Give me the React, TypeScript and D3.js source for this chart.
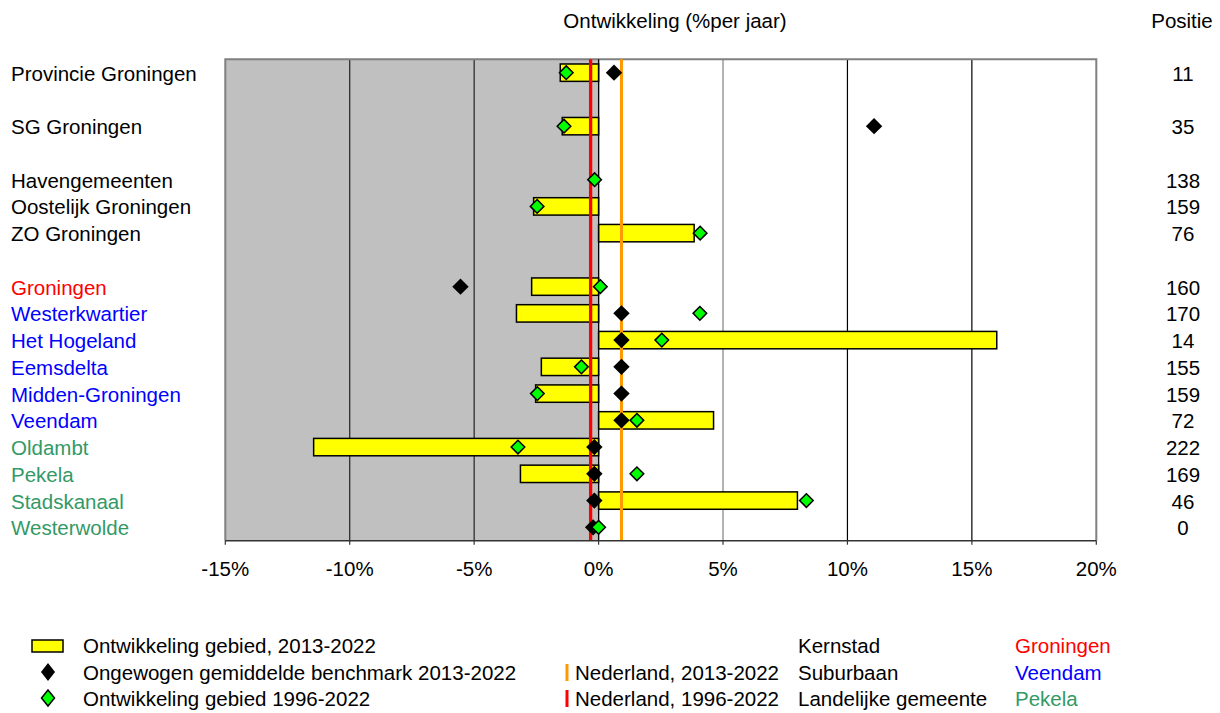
import React from "react";
import * as d3 from "d3";

// ---- data ----
const categories: string[] = [
  "Provincie Groningen", "", "SG Groningen", "", "Havengemeenten", "Oostelijk Groningen", "ZO Groningen", "",
  "Groningen", "Westerkwartier", "Het Hogeland", "Eemsdelta", "Midden-Groningen", "Veendam",
  "Oldambt", "Pekela", "Stadskanaal", "Westerwolde",
];
const categoryType: string[] = [
  "regio", "", "regio", "", "regio", "regio", "regio", "",
  "kern", "sub", "sub", "sub", "sub", "sub",
  "land", "land", "land", "land",
];
const ontwikkeling2013: (number | null)[] = [
  -1.54, null, -1.46, null, null, -2.61, 3.84, null,
  -2.69, -3.3, 16.0, -2.3, -2.53, 4.62,
  -11.45, -3.14, 7.99, null,
];
const benchmark2013: (number | null)[] = [
  0.62, null, 11.07, null, null, null, null, null,
  -5.55, 0.92, 0.92, 0.92, 0.92, 0.92,
  -0.17, -0.17, -0.17, -0.22,
];
const ontwikkeling1996: (number | null)[] = [
  -1.3, null, -1.39, null, -0.16, -2.47, 4.08, null,
  0.07, 4.07, 2.54, -0.69, -2.46, 1.54,
  -3.24, 1.54, 8.35, 0.0,
];
const positie: (number | null)[] = [
  11, null, 35, null, 138, 159, 76, null,
  160, 170, 14, 155, 159, 72,
  222, 169, 46, 0,
];
const nederland2013 = 0.92;
const nederland1996 = -0.32;
const xTicks: number[] = [-15, -10, -5, 0, 5, 10, 15, 20];

const typeColor: Record<string, string> = {
  regio: "#000000",
  kern: "#FF0000",
  sub: "#0000FF",
  land: "#339966",
};

const FONT = "Liberation Sans, Arial, sans-serif";
const FS = 20.5;

export default function App() {
  const W = 1220, H = 713;
  const left = 225.3, right = 1096.3, top = 59.3, bottom = 540.7;
  const x = d3.scaleLinear().domain([-15, 20]).range([left, right]);
  const y = d3
    .scaleBand<number>()
    .domain(categories.map((_, i) => i))
    .range([top, bottom])
    .paddingInner(0.35)
    .paddingOuter(0.175);
  const cy = (i: number) => (y(i) as number) + y.bandwidth() / 2;
  const diamond = (cx: number, cyv: number, r: number) =>
    `M${cx},${cyv - r}L${cx + r},${cyv}L${cx},${cyv + r}L${cx - r},${cyv}Z`;

  return (
    <svg width={W} height={H} style={{ position: "absolute", left: 0, top: 0, background: "#fff" }}
      fontFamily={FONT} fontSize={FS}>
      {/* header */}
      <text x={675} y={28} textAnchor="middle">Ontwikkeling (%per jaar)</text>
      <text x={1182} y={28} textAnchor="middle">Positie</text>

      {/* plot background */}
      <rect x={left} y={top} width={right - left} height={bottom - top} fill="#fff" />
      <rect x={left} y={top} width={x(0) - left} height={bottom - top} fill="#C0C0C0" />

      {/* gridlines */}
      {xTicks.filter((t) => t > -15 && t < 20).map((t) => (
        <line key={"g" + t} x1={x(t)} x2={x(t)} y1={top} y2={bottom}
          stroke={t === 5 ? "#808080" : t < 5 ? "#222" : "#000"} strokeWidth={1.2} />
      ))}

      {/* border */}
      <path d={`M${left},${bottom}L${left},${top}L${right},${top}L${right},${bottom}`}
        fill="none" stroke="#808080" strokeWidth={2} />

      {/* bars */}
      {ontwikkeling2013.map((v, i) =>
        v === null ? null : (
          <rect key={"b" + i} x={Math.min(x(0), x(v))} y={y(i)} width={Math.abs(x(v) - x(0))}
            height={y.bandwidth()} fill="#FFFF00" stroke="#000" strokeWidth={1.5} />
        )
      )}

      {/* zero line */}
      <line x1={x(0)} x2={x(0)} y1={top} y2={bottom} stroke="#000" strokeWidth={1.2} />

      {/* Nederland lines */}
      <line x1={x(nederland2013)} x2={x(nederland2013)} y1={top} y2={bottom} stroke="#FF9900" strokeWidth={3} />
      <line x1={x(nederland1996)} x2={x(nederland1996)} y1={top} y2={bottom} stroke="#FF0000" strokeWidth={3.3} />

      {/* benchmark diamonds */}
      {benchmark2013.map((v, i) =>
        v === null ? null : <path key={"k" + i} d={diamond(x(v), cy(i), 8.2)} fill="#000" />
      )}
      {/* 1996 diamonds */}
      {ontwikkeling1996.map((v, i) =>
        v === null ? null : (
          <path key={"d" + i} d={diamond(x(v), cy(i), 6.8)} fill="#00FF00" stroke="#000" strokeWidth={1.5} />
        )
      )}

      {/* x axis */}
      <line x1={left} x2={right} y1={bottom} y2={bottom} stroke="#333" strokeWidth={1.5} />
      {xTicks.map((t) => (
        <g key={"t" + t}>
          <line x1={x(t)} x2={x(t)} y1={bottom} y2={bottom + 4} stroke="#333" strokeWidth={1.2} />
          <text x={x(t)} y={576} textAnchor="middle">{t + "%"}</text>
        </g>
      ))}

      {/* category labels & positions */}
      {categories.map((c, i) =>
        c === "" ? null : (
          <g key={"c" + i}>
            <text x={11} y={cy(i) + 8} fill={typeColor[categoryType[i]]}>{c}</text>
            <text x={1183} y={cy(i) + 8} textAnchor="middle">{positie[i]}</text>
          </g>
        )
      )}

      {/* legend */}
      <rect x={32} y={640} width={31} height={12} fill="#FFFF00" stroke="#000" strokeWidth={1.5} />
      <text x={83} y={653}>Ontwikkeling gebied, 2013-2022</text>
      <path d={`M48,663L55,672L48,681L41,672Z`} fill="#000" />
      <text x={83} y={680}>Ongewogen gemiddelde benchmark 2013-2022</text>
      <path d={`M48,690L54.5,698L48,706L41.5,698Z`} fill="#00FF00" stroke="#000" strokeWidth={1.5} />
      <text x={83} y={706}>Ontwikkeling gebied 1996-2022</text>

      <line x1={567} x2={567} y1={664} y2={681} stroke="#FF9900" strokeWidth={3} />
      <text x={575} y={680}>Nederland, 2013-2022</text>
      <line x1={567} x2={567} y1={690} y2={707} stroke="#FF0000" strokeWidth={3} />
      <text x={575} y={706}>Nederland, 1996-2022</text>

      <text x={798} y={653}>Kernstad</text>
      <text x={798} y={680}>Suburbaan</text>
      <text x={798} y={706}>Landelijke gemeente</text>
      <text x={1015} y={653} fill={typeColor.kern}>Groningen</text>
      <text x={1015} y={680} fill={typeColor.sub}>Veendam</text>
      <text x={1015} y={706} fill={typeColor.land}>Pekela</text>
    </svg>
  );
}
